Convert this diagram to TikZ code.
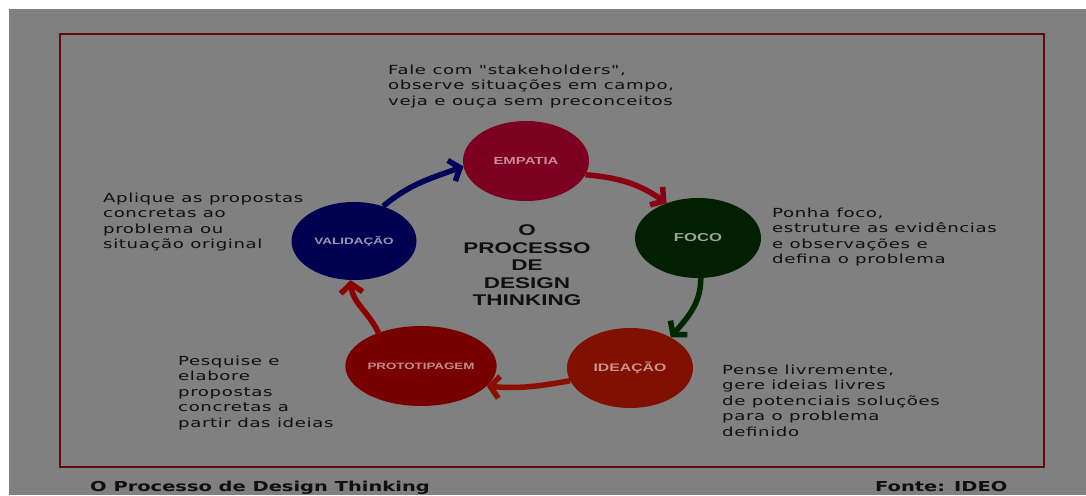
\documentclass[tikz,border=0pt]{standalone}
\usepackage{fontspec}
\usepackage{tikz}
\usetikzlibrary{arrows.meta, positioning, shapes}

\newfontfamily\txtfont[FakeStretch=1.45,LetterSpace=5]{DejaVu Sans}
\newfontfamily\ftfont[FakeStretch=1.42]{DejaVu Sans}
\newfontfamily\hdfont[FakeStretch=1.45]{Liberation Sans}

\definecolor{bggray}{RGB}{128,128,128}
\definecolor{framered}{RGB}{100,10,15}
\definecolor{ink}{RGB}{16,16,16}
\definecolor{empcol}{RGB}{125,0,32}
\definecolor{foccol}{RGB}{0,32,0}
\definecolor{ideacol}{RGB}{130,16,0}
\definecolor{protcol}{RGB}{120,0,0}
\definecolor{valcol}{RGB}{0,0,80}

\begin{document}
\begin{tikzpicture}[x=1pt, y=1pt,
	stage/.style={ellipse, inner sep=0pt, minimum width=126pt, minimum height=80pt},
	note/.style={anchor=north west, inner sep=0pt, align=left, text=ink, font={\txtfont\fontsize{12.5}{15.5}\selectfont}},
	flow/.style={line width=5.5pt, -{Straight Barb[length=9pt, width=22pt]}}
]

\useasboundingbox (0,0) rectangle (1086,495);
\fill [white] (0,0) rectangle (1086,495);
\fill [bggray] (9,0) rectangle (1086,486);
\draw [framered, line width=2pt] (60,28) rectangle (1044,461);

\node [stage, fill=empcol, text=white!55!empcol, font={\hdfont\bfseries\fontsize{10.3}{12}\selectfont}] (1) at (526,334) {EMPATIA};
\node [stage, fill=foccol, text=white!60!foccol, font={\hdfont\bfseries\fontsize{11.5}{13}\selectfont}] (2) at (698,257) {FOCO};
\node [stage, fill=ideacol, text=white!55!ideacol, font={\hdfont\bfseries\fontsize{10.9}{13}\selectfont}] (3) at (630,127) {IDEAÇÃO};
\node [stage, fill=protcol, text=white!55!protcol, font={\hdfont\bfseries\fontsize{9.2}{11}\selectfont}] (4) at (421,129) {PROTOTIPAGEM};
\node [stage, fill=valcol, text=white!60!valcol, minimum width=125pt, minimum height=78pt, font={\hdfont\bfseries\fontsize{9.3}{11}\selectfont}] (5) at (354,254) {VALIDAÇÃO};

\node [anchor=north, align=center, inner sep=0pt, text=ink, font={\hdfont\bfseries\fontsize{15.5}{17.5}\selectfont}] (c) at (527,270.5) {
	O \\
	PROCESSO \\
	DE \\
	DESIGN \\
	THINKING
};

\node [note] (t1) at (388,430.5) {
	Fale com "stakeholders", \\
	observe situações em campo, \\
	veja e ouça sem preconceitos
};
\node [note] (t2) at (772,287.5) {
	Ponha foco, \\
	estruture as evidências \\
	e observações e \\
	defina o problema
};
\node [note] (t3) at (722,130.5) {
	Pense livremente, \\
	gere ideias livres \\
	de potenciais soluções \\
	para o problema \\
	definido
};
\node [note] (t4) at (178,139.5) {
	Pesquise e \\
	elabore \\
	propostas \\
	concretas a \\
	partir das ideias
};
\node [note] (t5) at (103,302.5) {
	Aplique as propostas \\
	concretas ao \\
	problema ou \\
	situação original
};

\node [anchor=base west, inner sep=0pt, text=ink, font={\ftfont\bfseries\fontsize{13.7}{16}\selectfont}] (f1) at (90,4) {O Processo de Design Thinking};
\node [anchor=base west, inner sep=0pt, text=ink, font={\ftfont\bfseries\fontsize{13.7}{16}\selectfont}] (f2) at (875,4) {Fonte: IDEO};

\draw [flow, color={rgb,255:red,139;green,0;blue,16}] (1.-13) to [out=-5, in=145] (2.132);
\draw [flow, color={rgb,255:red,0;green,40;blue,0}] (2.-86) to [out=-90, in=50] (3.37);
\draw [flow, color={rgb,255:red,140;green,16;blue,0}] (3.192) to [out=190, in=-5] (4.-17);
\draw [flow, color={rgb,255:red,140;green,0;blue,0}] (4.142) to [out=115, in=-85] (5.-95);
\draw [flow, color={rgb,255:red,0;green,0;blue,90}] (5.50) to [out=40, in=200] (1.185);

\end{tikzpicture}
\end{document}
